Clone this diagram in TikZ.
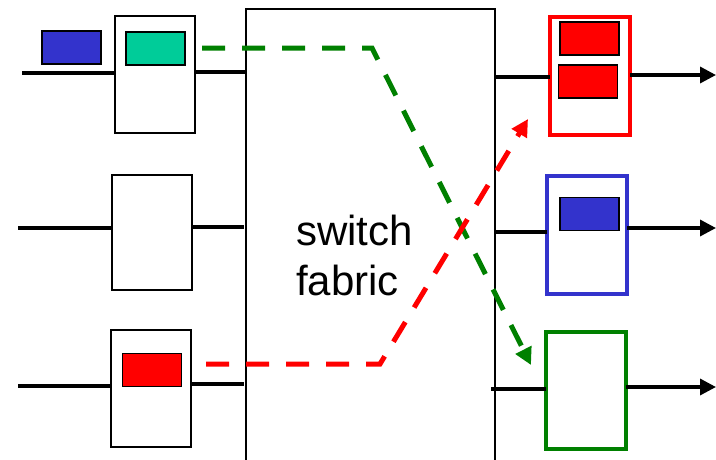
\documentclass[tikz,border=0pt]{standalone}
\usepackage{fontspec}
\setmainfont{Liberation Sans}
\usetikzlibrary{arrows.meta}
\definecolor{pktblue}{HTML}{3333CC}
\definecolor{pktteal}{HTML}{00CC99}
\definecolor{pktred}{HTML}{FF0000}
\definecolor{flowgreen}{HTML}{008000}
\begin{document}
\begin{tikzpicture}[x=1pt,y=-1pt,
  port/.style={draw=black,line width=2.2pt,fill=white,minimum width=80pt,minimum height=117pt,inner sep=0pt,outer sep=0pt},
  pkt/.style={draw=black,line width=1.8pt,minimum width=59pt,minimum height=33pt,inner sep=0pt,outer sep=0pt},
  wire/.style={line width=3.4pt},
  outarrow/.style={line width=3.4pt,-{Triangle[length=16pt,width=16pt]}},
  flow/.style={line width=5pt,dash pattern=on 23pt off 17pt,-{Triangle[length=17pt,width=17pt]}}]
\useasboundingbox (0,0) rectangle (716,459);
% switch fabric
\coordinate (fbl) at (246,462);
\coordinate (ftl) at (246,9);
\coordinate (ftr) at (495,9);
\coordinate (fbr) at (495,462);
\draw[line width=2.2pt] (fbl) -- (ftl) -- (ftr) -- (fbr);
\node[font=\fontsize{42}{50}\selectfont,align=left,inner sep=0pt] (label) at (354.5,255) {switch\\fabric};
% input ports
\node[port] (in1) at (155,74.5) {};
\node[port,minimum height=115pt] (in2) at (152,232.5) {};
\node[port] (in3) at (151,388.5) {};
% output ports
\node[port,draw=pktred,line width=3.4pt,minimum height=118pt] (out1) at (590,76) {};
\node[port,draw=pktblue,line width=3.4pt,minimum height=118pt] (out2) at (587,235) {};
\node[port,draw=flowgreen,line width=3.4pt] (out3) at (586,390.5) {};
% packets
\node[pkt,fill=pktblue] (p1) at (71.5,47.5) {};
\node[pkt,fill=pktteal] (p2) at (155.5,48.5) {};
\node[pkt,fill=pktred] (p3) at (152,370) {};
\node[pkt,fill=pktred] (p4) at (589.5,38.5) {};
\node[pkt,fill=pktred] (p5) at (588,81.5) {};
\node[pkt,fill=pktblue] (p6) at (589.5,214) {};
% input wires
\coordinate (a1) at (22,73);
\coordinate (a2) at (18,228);
\coordinate (a3) at (18,386);
\draw[wire] (a1) -- (a1 -| in1.west);
\draw[wire] (a2) -- (a2 -| in2.west);
\draw[wire] (a3) -- (a3 -| in3.west);
\coordinate (b1) at (246,72);
\coordinate (b2) at (244,227);
\coordinate (b3) at (244,384);
\draw[wire] (b1 -| in1.east) -- (b1);
\draw[wire] (b2 -| in2.east) -- (b2);
\draw[wire] (b3 -| in3.east) -- (b3);
% output wires
\coordinate (c1) at (494,77);
\coordinate (c2) at (494,232);
\coordinate (c3) at (491,389);
\draw[wire] (c1) -- (c1 -| out1.west);
\draw[wire] (c2) -- (c2 -| out2.west);
\draw[wire] (c3) -- (c3 -| out3.west);
\coordinate (d1) at (716,75);
\coordinate (d2) at (716,228);
\coordinate (d3) at (716,387);
\draw[outarrow] (d1 -| out1.east) -- (d1);
\draw[outarrow] (d2 -| out2.east) -- (d2);
\draw[outarrow] (d3 -| out3.east) -- (d3);
% flows
\coordinate (g0) at (202,48);
\coordinate (g1) at (372,48);
\coordinate (g2) at (531,365);
\draw[flow,draw=flowgreen,color=flowgreen] (g0) -- (g1) -- (g2);
\coordinate (r0) at (206,364);
\coordinate (r1) at (380,364);
\coordinate (r2) at (528,119);
\draw[flow,draw=pktred,color=pktred] (r0) -- (r1) -- (r2);
\end{tikzpicture}
\end{document}
